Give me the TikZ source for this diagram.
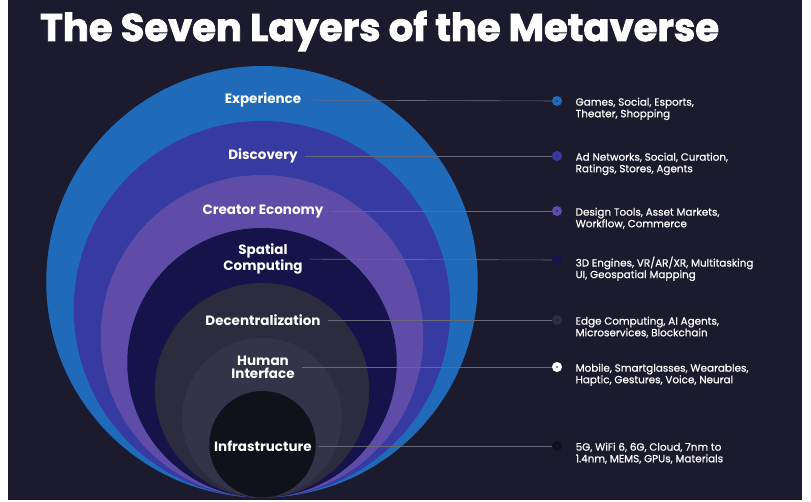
\documentclass[tikz,border=0pt]{standalone}
\usepackage{fontspec}
\setmainfont{Poppins}
\newfontfamily\headfont[FakeBold=2.2]{Poppins}
\newfontfamily\descfont[FakeBold=0.5]{Poppins}
\usepackage{tikz}
\usetikzlibrary{positioning}

\definecolor{bgnavy}{RGB}{28,27,45}
\definecolor{expblue}{RGB}{31,107,186}
\definecolor{discblue}{RGB}{55,58,160}
\definecolor{creatpurple}{RGB}{94,76,168}
\definecolor{spatnavy}{RGB}{21,19,74}
\definecolor{decgrey}{RGB}{44,44,62}
\definecolor{humgrey}{RGB}{52,52,72}
\definecolor{infblack}{RGB}{17,17,27}
\definecolor{linegrey}{RGB}{105,105,125}

\begin{document}
\begin{tikzpicture}[
    x=1pt, y=-1pt,
    headline/.style={font=\headfont\bfseries\fontsize{38.5}{38.5}\selectfont, text=white, inner sep=0pt},
    layer/.style={font=\bfseries\fontsize{13.5}{13}\selectfont, text=white, align=center, inner sep=0pt},
    pin/.style={circle, draw=#1, line width=3.8pt, fill=bgnavy, minimum size=6pt, inner sep=0pt},
    desc/.style={font=\descfont\fontsize{10.4}{11.6}\selectfont, text=white, align=left, inner sep=0pt},
    link/.style={linegrey, line width=0.6pt, shorten <=7pt}
]
    % Page and dark panel
    \useasboundingbox (0,0) rectangle (811,502);
    \fill[white] (0,0) rectangle (811,502);
    \fill[bgnavy] (8,0) rectangle (802,500);

    % Title
    \node[headline, anchor=base west] (title) at (40,41) {The Seven Layers of the Metaverse};

    % Nested layers - all touching at the bottom
    \fill[expblue] (262,281.75) circle (215.75pt);
    \fill[discblue] (262,309.25) circle (188.25pt);
    \fill[creatpurple] (262,336.25) circle (161.25pt);
    \fill[spatnavy] (262,362.75) circle (134.75pt);
    \fill[decgrey] (262,390.25) circle (107.25pt);
    \fill[humgrey] (262,417.75) circle (79.75pt);
    \fill[infblack] (262.5,444.25) circle (53.25pt);

    % Layer names
    \node[layer] (exp) at (263,100) {Experience};
    \node[layer] (disc) at (263,156) {Discovery};
    \node[layer] (creat) at (263,211) {Creator Economy};
    \node[layer] (spat) at (263,259) {Spatial\\Computing};
    \node[layer] (dec) at (263,320) {Decentralization};
    \node[layer] (hum) at (263,367) {Human\\Interface};
    \node[layer] (inf) at (263,446) {Infrastructure};

    % Pins on the right
    \node[pin=expblue] (p1) at (557,101) {};
    \node[pin=discblue] (p2) at (557,156) {};
    \node[pin=creatpurple] (p3) at (557,211) {};
    \node[pin=spatnavy] (p4) at (557,260) {};
    \node[pin=decgrey] (p5) at (557,320) {};
    \node[pin=white] (p6) at (557,367) {};
    \node[pin=infblack] (p7) at (557,446) {};

    % Descriptions - next to the pins
    \node[desc, right=15pt of p1.north east, anchor=north west] {Games, Social, Esports,\\Theater, Shopping};
    \node[desc, right=15pt of p2.north east, anchor=north west] {Ad Networks, Social, Curation,\\Ratings, Stores, Agents};
    \node[desc, right=15pt of p3.north east, anchor=north west] {Design Tools, Asset Markets,\\Workflow, Commerce};
    \node[desc, right=15pt of p4.north east, anchor=north west] {3D Engines, VR/AR/XR, Multitasking\\UI, Geospatial Mapping};
    \node[desc, right=15pt of p5.north east, anchor=north west] {Edge Computing, AI Agents,\\Microservices, Blockchain};
    \node[desc, right=15pt of p6.north east, anchor=north west] {Mobile, Smartglasses, Wearables,\\Haptic, Gestures, Voice, Neural};
    \node[desc, right=15pt of p7.north east, anchor=north west] {5G, WiFi 6, 6G, Cloud, 7nm to\\1.4nm, MEMS, GPUs, Materials};

    % Leader lines
    \draw[link] (exp) -- (p1);
    \draw[link] (disc) -- (p2);
    \draw[link] (creat) -- (p3);
    \draw[link] (spat) -- (p4);
    \draw[link] (dec) -- (p5);
    \draw[link] (hum) -- (p6);
    \draw[link] (inf) -- (p7);
\end{tikzpicture}
\end{document}
